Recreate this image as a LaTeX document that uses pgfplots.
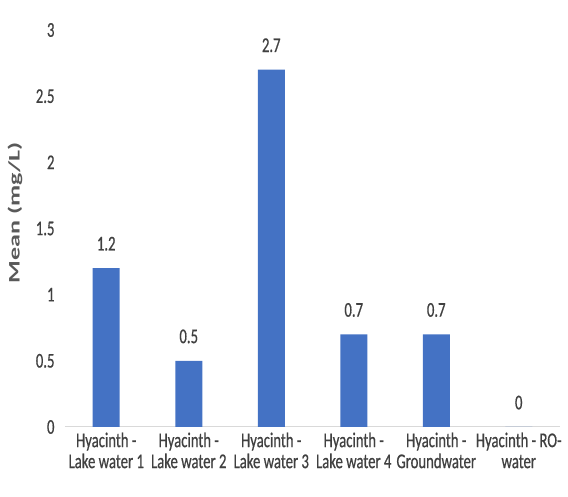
\documentclass[border=0pt]{standalone}
\usepackage{pgfplots}
\pgfplotsset{compat=1.18}
\usepackage{fontspec}
\usepackage{graphicx}
\setmainfont{Carlito}
\newfontfamily\narrowfont[FakeStretch=0.7, FakeBold=0.6]{Carlito}
\definecolor{barblue}{HTML}{4472C4}
\definecolor{txtgray}{HTML}{404040}
\definecolor{labgray}{HTML}{595959}
\definecolor{axisgray}{HTML}{D9D9D9}
\begin{document}
\begin{tikzpicture}
\path[use as bounding box] (-65pt,-70pt) rectangle (503pt,427pt);
\begin{axis}[
  scale only axis,
  width=495pt, height=397pt,
  xmin=-0.5, xmax=5.5,
  ymin=0, ymax=3,
  ytick={0,0.5,...,3},
  yticklabels={0,0.5,1,1.5,2,2.5,3},
  xtick=data,
  xticklabels={{Hyacinth -\\Lake water 1},{Hyacinth -\\Lake water 2},{Hyacinth -\\Lake water 3},{Hyacinth -\\Lake water 4},{Hyacinth -\\Groundwater},{Hyacinth - RO-\\water}},
  xticklabel style={align=center, font=\narrowfont\fontsize{21}{21}\selectfont, text=txtgray, yshift=-2pt},
  yticklabel style={font=\narrowfont\fontsize{21}{21}\selectfont, text=txtgray, xshift=-7pt},
  axis y line*=left,
  y axis line style={draw=none},
  axis x line*=bottom,
  x axis line style={draw=axisgray, line width=1pt, -},
  major tick length=0pt,
  ybar,
  bar width=27pt,
  ylabel={\scalebox{1}[0.62]{\bfseries\fontsize{26}{28}\selectfont Mean (mg/L)}},
  ylabel style={at={(axis description cs:-0.101,0.54)}, anchor=center, text=labgray},
  nodes near coords,
  nodes near coords style={font=\narrowfont\fontsize{21}{21}\selectfont, text=txtgray, anchor=south, yshift=14pt},
  point meta=explicit symbolic,
  clip=false,
]
\addplot[fill=barblue, draw=none] coordinates {
  (0,1.2) [1.2]
  (1,0.5) [0.5]
  (2,2.7) [2.7]
  (3,0.7) [0.7]
  (4,0.7) [0.7]
  (5,0) [0]
};
\end{axis}
\end{tikzpicture}
\end{document}
